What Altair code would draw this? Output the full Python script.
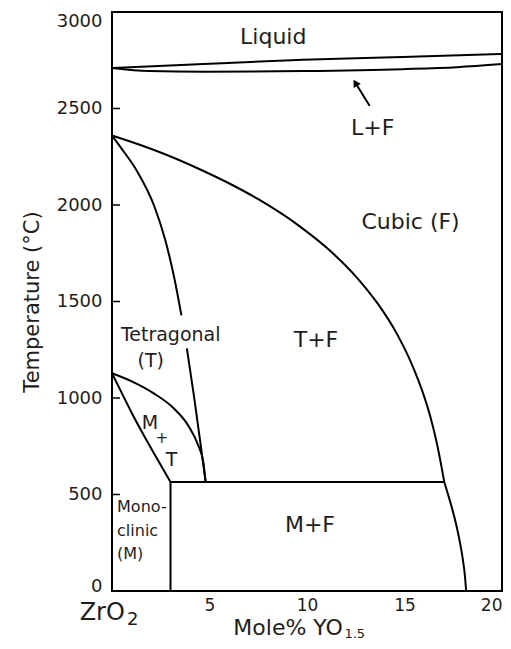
import altair as alt
import pandas as pd

FONT = "DejaVu Sans"
INK = "#1e1e1e"

# ---- phase boundaries (x = mol% YO1.5, T = deg C) ----
liquidus_x = [0, 4.7, 9.8, 14.9, 20]
liquidus_T = [2710, 2731, 2752, 2767, 2783]
solidus_x = [0, 1.9, 4.7, 9.8, 14.9, 17.7, 20]
solidus_T = [2710, 2694, 2690, 2694, 2704, 2714, 2730]
cubic_x = [0, 1.53, 2.91, 4.44, 5.97, 7.50, 9.54, 11.07, 12.60, 13.62, 14.64, 15.41, 15.92, 16.33, 16.68, 17.04]
cubic_T = [2360, 2308, 2255, 2188, 2114, 2030, 1896, 1773, 1619, 1490, 1327, 1167, 1034, 901, 756, 565]
cubic_low_x = [17.04, 17.29, 17.57, 17.80, 17.98, 18.11, 18.16]
cubic_low_T = [565, 481, 378, 274, 171, 67, 0]
tet_upper_x = [0, 0.50, 1.27, 2.16, 2.71, 3.20, 3.56]
tet_upper_T = [2360, 2291, 2178, 1996, 1826, 1619, 1428]
tet_lower_x = [3.84, 4.22, 4.57, 4.8]
tet_lower_T = [1257, 998, 740, 565]
mt_upper_x = [0, 1.12, 2.14, 3.16, 3.93, 4.44, 4.69, 4.8]
mt_upper_T = [1128, 1081, 1024, 947, 854, 750, 662, 565]
mt_lower_x = [0, 0.51, 1.02, 1.63, 2.24, 3.0]
mt_lower_T = [1128, 1024, 921, 807, 698, 565]
eutectoid_x = [3.0, 17.04]
eutectoid_T = [565, 565]
mono_x = [3.0, 3.0]
mono_T = [565, 0]

# ---- axis ticks ----
x_ticks = [0, 5, 10, 15, 20]
y_ticks = [0, 500, 1000, 1500, 2000, 2500, 3000]
y_inner_ticks = [500, 1000, 1500, 2000, 2500]

# ---- region labels ----
region_text = ["Liquid", "L+F", "Cubic (F)", "T+F", "Tetragonal", "(T)", "M", "+", "T", "M+F"]
region_x = [8.27, 13.37, 15.31, 10.46, 3.01, 1.99, 1.94, 2.55, 3.06, 10.15]
region_T = [2871, 2400, 1914, 1298, 1329, 1190, 869, 791, 678, 341]
region_size = [22, 22, 22, 22, 19, 19, 19, 15, 19, 22]

mono_text = ["Mono-", "clinic", "(M)"]
mono_lx = [0.26, 0.26, 0.26]
mono_lT = [434, 310, 191]
mono_size = [16, 16, 16]

# axis-title pieces with subscripts
main_text = ["Mole% YO", "ZrO"]
main_x = [11.84, 0.66]
main_T = [-228, -150]
main_size = [22, 24]
sub_text = ["1.5", "2"]
sub_x = [11.92, 0.77]
sub_T = [-244, -176]
sub_size = [13, 18]

# arrow pointing at the L+F band
arrow_x = [13.21, 12.48]
arrow_T = [2514, 2633]


def seg(name, xs, ts):
    return pd.DataFrame({"x": xs, "T": ts, "seg": name, "ord": list(range(len(xs)))})


curves = pd.concat([
    seg("liq", liquidus_x, liquidus_T),
    seg("sol", solidus_x, solidus_T),
    seg("cub", cubic_x, cubic_T),
    seg("cubl", cubic_low_x, cubic_low_T),
    seg("tetu", tet_upper_x, tet_upper_T),
    seg("tetl", tet_lower_x, tet_lower_T),
    seg("mtu", mt_upper_x, mt_upper_T),
    seg("mtl", mt_lower_x, mt_lower_T),
], ignore_index=True)

straights = pd.concat([
    seg("eut", eutectoid_x, eutectoid_T),
    seg("mono", mono_x, mono_T),
    seg("arrow", arrow_x, arrow_T),
], ignore_index=True)

xs = alt.Scale(domain=[0, 20], nice=False, zero=False)
ys = alt.Scale(domain=[0, 3000], nice=False, zero=False)

x_axis = alt.Axis(
    values=x_ticks, labelExpr="datum.value == 0 ? '' : datum.label",
    ticks=False, domain=False, grid=False,
    labelFont=FONT, labelFontSize=17, labelColor=INK, labelPadding=6,
    labelFlush=True, labelFlushOffset=0, title=None,
)
y_axis = alt.Axis(
    values=y_ticks, format="d", ticks=False, domain=False, grid=False,
    labelFont=FONT, labelFontSize=18, labelColor=INK, labelPadding=10,
    labelFlush=False,
    labelBaseline={"condition": [
        {"test": "datum.value == 3000", "value": "top"},
        {"test": "datum.value == 0", "value": "alphabetic"},
    ], "value": "middle"},
    title="Temperature (°C)", titleFont=FONT, titleFontSize=21,
    titleFontWeight="normal", titleColor=INK, titlePadding=14,
)

curve_layer = alt.Chart(curves).mark_line(
    color="black", strokeWidth=2, interpolate="monotone"
).encode(
    x=alt.X("x:Q", scale=xs, axis=x_axis),
    y=alt.Y("T:Q", scale=ys, axis=y_axis),
    detail="seg:N",
    order="ord:Q",
)

straight_layer = alt.Chart(straights).mark_line(color="black", strokeWidth=2).encode(
    x=alt.X("x:Q", scale=xs),
    y=alt.Y("T:Q", scale=ys),
    detail="seg:N",
    order="ord:Q",
)

head_layer = alt.Chart(pd.DataFrame({"x": arrow_x[1:], "T": arrow_T[1:]})).mark_point(
    shape="triangle-up", filled=True, color="black", size=70, angle=328, opacity=1
).encode(x=alt.X("x:Q", scale=xs), y=alt.Y("T:Q", scale=ys))

tick_layer = alt.Chart(pd.DataFrame({"T": y_inner_ticks})).mark_rule(
    color="black", strokeWidth=1.5
).encode(y=alt.Y("T:Q", scale=ys), x=alt.value(0), x2=alt.value(8))

region_layer = alt.Chart(pd.DataFrame({
    "t": region_text, "x": region_x, "T": region_T, "fs": region_size
})).mark_text(font=FONT, color=INK, align="center", baseline="middle").encode(
    x=alt.X("x:Q", scale=xs), y=alt.Y("T:Q", scale=ys),
    text="t:N", size=alt.Size("fs:Q", scale=None, legend=None),
)

mono_layer = alt.Chart(pd.DataFrame({
    "t": mono_text, "x": mono_lx, "T": mono_lT, "fs": mono_size
})).mark_text(font=FONT, color=INK, align="left", baseline="middle").encode(
    x=alt.X("x:Q", scale=xs), y=alt.Y("T:Q", scale=ys),
    text="t:N", size=alt.Size("fs:Q", scale=None, legend=None),
)

main_layer = alt.Chart(pd.DataFrame({
    "t": main_text, "x": main_x, "T": main_T, "fs": main_size
})).mark_text(font=FONT, color=INK, align="right", baseline="alphabetic").encode(
    x=alt.X("x:Q", scale=xs), y=alt.Y("T:Q", scale=ys),
    text="t:N", size=alt.Size("fs:Q", scale=None, legend=None),
)

sub_layer = alt.Chart(pd.DataFrame({
    "t": sub_text, "x": sub_x, "T": sub_T, "fs": sub_size
})).mark_text(font=FONT, color=INK, align="left", baseline="alphabetic").encode(
    x=alt.X("x:Q", scale=xs), y=alt.Y("T:Q", scale=ys),
    text="t:N", size=alt.Size("fs:Q", scale=None, legend=None),
)

chart = alt.layer(
    curve_layer, straight_layer, head_layer, tick_layer,
    region_layer, mono_layer, main_layer, sub_layer,
).properties(
    width=390, height=579,
    autosize=alt.AutoSizeParams(type="none"),
    padding={"left": 104, "top": 4, "right": 1, "bottom": 50},
    background="white",
).configure_view(stroke="black", strokeWidth=2)

chart.save("out.html", embed_options={"renderer": "svg", "actions": False})
